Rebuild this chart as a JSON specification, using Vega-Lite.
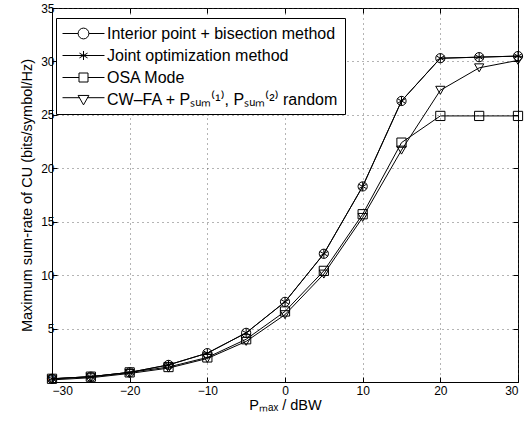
{
  "$schema": "https://vega.github.io/schema/vega-lite/v6.json",
  "autosize": "none",
  "width": 466,
  "height": 374,
  "padding": {"left": 52, "top": 8, "right": 13, "bottom": 41},
  "background": "white",
  "config": {
    "font": "Liberation Sans",
    "view": {"stroke": "black", "strokeWidth": 1},
    "axis": {
      "labelFont": "Liberation Sans", "labelFontSize": 12, "labelColor": "black",
      "titleFont": "Liberation Sans", "titleFontSize": 14.5, "titleFontWeight": "normal", "titleColor": "black",
      "domainColor": "black", "tickColor": "black", "tickSize": -5,
      "grid": true, "gridColor": "#444", "gridDash": [1, 4], "gridOpacity": 0.8
    }
  },
  "data": {
    "values": [
      {"x": -30, "y": 0.3, "s": "Interior point + bisection method"},
      {"x": -25, "y": 0.5, "s": "Interior point + bisection method"},
      {"x": -20, "y": 0.9, "s": "Interior point + bisection method"},
      {"x": -15, "y": 1.6, "s": "Interior point + bisection method"},
      {"x": -10, "y": 2.7, "s": "Interior point + bisection method"},
      {"x": -5, "y": 4.6, "s": "Interior point + bisection method"},
      {"x": 0, "y": 7.5, "s": "Interior point + bisection method"},
      {"x": 5, "y": 12.0, "s": "Interior point + bisection method"},
      {"x": 10, "y": 18.3, "s": "Interior point + bisection method"},
      {"x": 15, "y": 26.3, "s": "Interior point + bisection method"},
      {"x": 20, "y": 30.3, "s": "Interior point + bisection method"},
      {"x": 25, "y": 30.4, "s": "Interior point + bisection method"},
      {"x": 30, "y": 30.5, "s": "Interior point + bisection method"},
      {"x": -30, "y": 0.3, "s": "Joint optimization method"},
      {"x": -25, "y": 0.5, "s": "Joint optimization method"},
      {"x": -20, "y": 0.9, "s": "Joint optimization method"},
      {"x": -15, "y": 1.6, "s": "Joint optimization method"},
      {"x": -10, "y": 2.7, "s": "Joint optimization method"},
      {"x": -5, "y": 4.6, "s": "Joint optimization method"},
      {"x": 0, "y": 7.5, "s": "Joint optimization method"},
      {"x": 5, "y": 12.0, "s": "Joint optimization method"},
      {"x": 10, "y": 18.3, "s": "Joint optimization method"},
      {"x": 15, "y": 26.3, "s": "Joint optimization method"},
      {"x": 20, "y": 30.3, "s": "Joint optimization method"},
      {"x": 25, "y": 30.4, "s": "Joint optimization method"},
      {"x": 30, "y": 30.5, "s": "Joint optimization method"},
      {"x": -30, "y": 0.3, "s": "OSA Mode"},
      {"x": -25, "y": 0.5, "s": "OSA Mode"},
      {"x": -20, "y": 0.9, "s": "OSA Mode"},
      {"x": -15, "y": 1.4, "s": "OSA Mode"},
      {"x": -10, "y": 2.3, "s": "OSA Mode"},
      {"x": -5, "y": 4.0, "s": "OSA Mode"},
      {"x": 0, "y": 6.6, "s": "OSA Mode"},
      {"x": 5, "y": 10.4, "s": "OSA Mode"},
      {"x": 10, "y": 15.7, "s": "OSA Mode"},
      {"x": 15, "y": 22.4, "s": "OSA Mode"},
      {"x": 20, "y": 24.9, "s": "OSA Mode"},
      {"x": 25, "y": 24.9, "s": "OSA Mode"},
      {"x": 30, "y": 24.9, "s": "OSA Mode"},
      {"x": -30, "y": 0.2, "s": "CW–FA + Pₛᵤₘ⁽¹⁾, Pₛᵤₘ⁽²⁾ random"},
      {"x": -25, "y": 0.4, "s": "CW–FA + Pₛᵤₘ⁽¹⁾, Pₛᵤₘ⁽²⁾ random"},
      {"x": -20, "y": 0.8, "s": "CW–FA + Pₛᵤₘ⁽¹⁾, Pₛᵤₘ⁽²⁾ random"},
      {"x": -15, "y": 1.3, "s": "CW–FA + Pₛᵤₘ⁽¹⁾, Pₛᵤₘ⁽²⁾ random"},
      {"x": -10, "y": 2.2, "s": "CW–FA + Pₛᵤₘ⁽¹⁾, Pₛᵤₘ⁽²⁾ random"},
      {"x": -5, "y": 3.8, "s": "CW–FA + Pₛᵤₘ⁽¹⁾, Pₛᵤₘ⁽²⁾ random"},
      {"x": 0, "y": 6.3, "s": "CW–FA + Pₛᵤₘ⁽¹⁾, Pₛᵤₘ⁽²⁾ random"},
      {"x": 5, "y": 10.1, "s": "CW–FA + Pₛᵤₘ⁽¹⁾, Pₛᵤₘ⁽²⁾ random"},
      {"x": 10, "y": 15.4, "s": "CW–FA + Pₛᵤₘ⁽¹⁾, Pₛᵤₘ⁽²⁾ random"},
      {"x": 15, "y": 21.7, "s": "CW–FA + Pₛᵤₘ⁽¹⁾, Pₛᵤₘ⁽²⁾ random"},
      {"x": 20, "y": 27.3, "s": "CW–FA + Pₛᵤₘ⁽¹⁾, Pₛᵤₘ⁽²⁾ random"},
      {"x": 25, "y": 29.4, "s": "CW–FA + Pₛᵤₘ⁽¹⁾, Pₛᵤₘ⁽²⁾ random"},
      {"x": 30, "y": 30.1, "s": "CW–FA + Pₛᵤₘ⁽¹⁾, Pₛᵤₘ⁽²⁾ random"}
    ]
  },
  "resolve": {"scale": {"shape": "independent"}, "axis": {"x": "independent", "y": "independent"}},
  "layer": [
    {
      "mark": {"type": "line", "color": "black", "strokeWidth": 1},
      "encoding": {
        "x": {"field": "x", "type": "quantitative", "scale": {"domain": [-30, 30], "nice": false},
          "axis": {"values": [-30, -20, -10, 0, 10, 20, 30], "title": "Pₘₐₓ / dBW", "titlePadding": 2, "labelPadding": 8, "format": "d", "labelOverlap": false}},
        "y": {"field": "y", "type": "quantitative", "scale": {"domain": [0, 35], "nice": false},
          "axis": {"values": [0, 5, 10, 15, 20, 25, 30, 35], "title": "Maximum sum-rate of CU (bits/symbol/Hz)", "titlePadding": 6, "labelPadding": 3, "labelOverlap": false,
            "labelOffset": {"condition": {"test": "datum.value === 0", "value": -4}, "value": 0}}},
        "detail": {"field": "s"}
      }
    },
    {
      "mark": {"type": "point", "filled": false, "color": "black", "strokeWidth": 1, "opacity": 1},
      "encoding": {
        "x": {"field": "x", "type": "quantitative", "axis": null},
        "y": {"field": "y", "type": "quantitative", "axis": null},
        "shape": {
          "field": "s", "type": "nominal",
          "scale": {
            "domain": ["Interior point + bisection method", "Joint optimization method", "OSA Mode", "CW–FA + Pₛᵤₘ⁽¹⁾, Pₛᵤₘ⁽²⁾ random"],
            "range": ["circle", "M0,-1V1M-0.87,-0.5L0.87,0.5M-0.87,0.5L0.87,-0.5", "square", "triangle-down"]
          },
          "legend": null
        },
        "size": {"value": 85}
      }
    },
    {
      "mark": {"type": "point", "filled": false, "color": "black", "strokeWidth": 1, "opacity": 1},
      "encoding": {
        "x": {"field": "x", "type": "quantitative",
          "axis": {"orient": "top", "values": [-30, -20, -10, 0, 10, 20, 30], "labels": false, "title": null, "grid": false, "domain": false}},
        "y": {"field": "y", "type": "quantitative",
          "axis": {"orient": "right", "values": [0, 5, 10, 15, 20, 25, 30, 35], "labels": false, "title": null, "grid": false, "domain": false}},
        "shape": {
          "field": "s", "type": "nominal",
          "scale": {
            "domain": ["Interior point + bisection method", "Joint optimization method", "OSA Mode", "CW–FA + Pₛᵤₘ⁽¹⁾, Pₛᵤₘ⁽²⁾ random"],
            "range": [
              "M-2.33,0H-0.6M0.6,0H2.33M-0.6,0A0.6,0.6 0 1,1 0.6,0A0.6,0.6 0 1,1 -0.6,0",
              "M-2.33,0H2.33M0,-0.5V0.5M-0.45,-0.27L0.45,0.27M-0.45,0.27L0.45,-0.27",
              "M-2.33,0H-0.5M0.5,0H2.33M-0.5,-0.5H0.5V0.5H-0.5Z",
              "M-2.33,-0.2H-0.4M0.4,-0.2H2.33M-0.6,-0.45H0.6L0,0.6Z"
            ]
          },
          "legend": {
            "title": null,
            "orient": "none",
            "legendX": 4,
            "legendY": 10,
            "strokeColor": "black",
            "fillColor": "white",
            "padding": 6,
            "labelFont": "Liberation Sans",
            "labelFontSize": 16,
            "labelColor": "black",
            "labelLimit": 400,
            "symbolSize": 324,
            "symbolOpacity": 1,
            "symbolStrokeColor": "black",
            "symbolFillColor": "transparent",
            "symbolStrokeWidth": 1,
            "symbolOffset": 12,
            "rowPadding": 4,
            "labelOffset": 14
          }
        },
        "size": {"value": 0}
      }
    }
  ]
}
